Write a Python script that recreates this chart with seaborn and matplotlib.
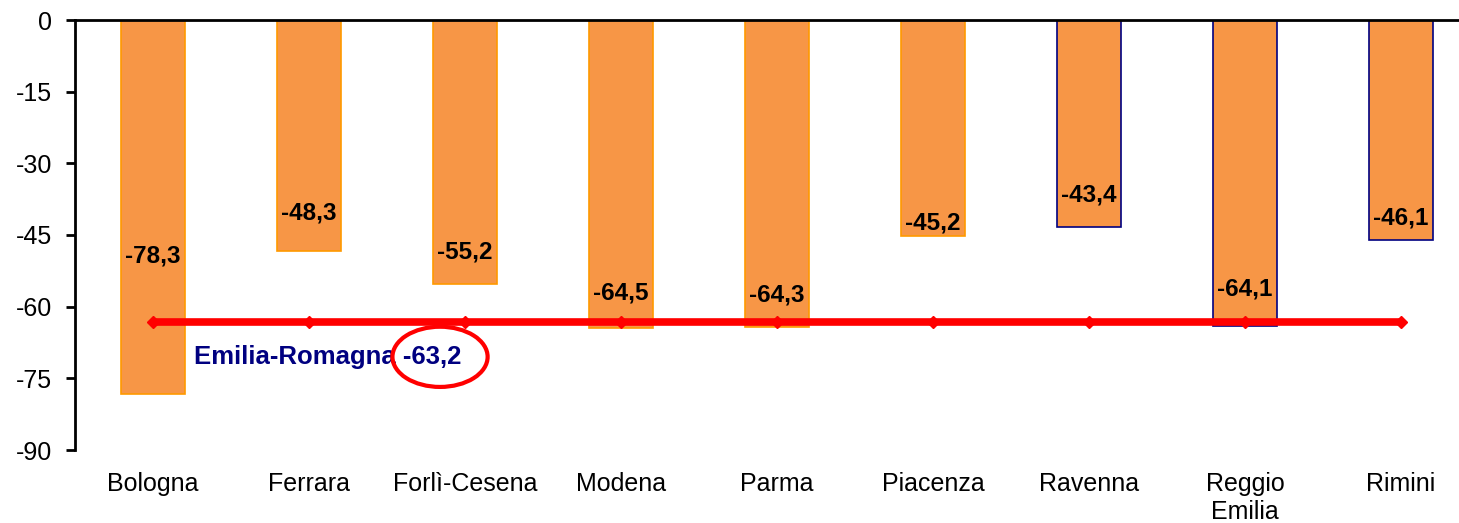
import matplotlib
matplotlib.use('Agg')
import matplotlib.pyplot as plt
from matplotlib.patches import Ellipse
import seaborn as sns
import pandas as pd

sns.set_style('white')
plt.rcParams['font.family'] = ['Liberation Sans', 'DejaVu Sans']
plt.rcParams['axes.unicode_minus'] = False

# data
province = ['Bologna', 'Ferrara', 'Forlì-Cesena', 'Modena', 'Parma',
            'Piacenza', 'Ravenna', 'Reggio\nEmilia', 'Rimini']
variazione = [-78.3, -48.3, -55.2, -64.5, -64.3, -45.2, -43.4, -64.1, -46.1]
regione_label = 'Emilia-Romagna'
regione_val = -63.2

# vertical shift of each value label (labels were hand-placed in the original)
label_shift = [29, 8, 6.6, 7.4, 6.7, 2.7, 6.8, 7.8, 4.7]
edge_cols = ['#FF9900'] * 6 + ['#000080'] * 3

df = pd.DataFrame({'provincia': province, 'valore': variazione})

fig = plt.figure(figsize=(14.59, 5.23), dpi=100)
ax = fig.add_axes([75 / 1459, 1 - 450 / 523, 1 - 75 / 1459, 430 / 523])

sns.barplot(data=df, x='provincia', y='valore', color='#F79646', width=0.41,
            saturation=1, ax=ax)
for patch, ec in zip(ax.patches, edge_cols):
    patch.set_edgecolor(ec)
    patch.set_linewidth(1.2)

# regional average line
xs = list(range(len(province)))
ax.plot(xs, [regione_val] * len(xs), color='#FF0000', lw=5.5, marker='D',
        markersize=6, zorder=5)

for i, v in enumerate(variazione):
    ax.text(i, v + label_shift[i], f'{v:.1f}'.replace('.', ','),
            ha='center', va='center', fontsize=17.5, fontweight='bold', color='black')

ax.text(0.26, -70.5, f'{regione_label} {regione_val:.1f}'.replace('.', ','),
        ha='left', va='center', fontsize=18.5, fontweight='bold', color='#000080')
ax.add_patch(Ellipse((1.84, -70.5), 0.61, 12.6, fill=False, edgecolor='#FF0000',
                     lw=3, zorder=6))

ax.set_ylim(-90, 0)
ax.set_xlim(-0.5, (1459 - 153) / 156)
ax.set_yticks([0, -15, -30, -45, -60, -75, -90])
ax.tick_params(axis='y', labelsize=18, length=6.5, width=2, direction='out',
               left=True, pad=10, colors='black')
ax.tick_params(axis='x', labelsize=18, length=0, pad=16, colors='black')
ax.set_xlabel('')
ax.set_ylabel('')

for s in ['right', 'bottom']:
    ax.spines[s].set_visible(False)
ax.spines['left'].set_linewidth(2)
ax.spines['left'].set_color('black')
ax.spines['top'].set_linewidth(2)
ax.spines['top'].set_color('black')

fig.savefig('out.png', dpi=100)
